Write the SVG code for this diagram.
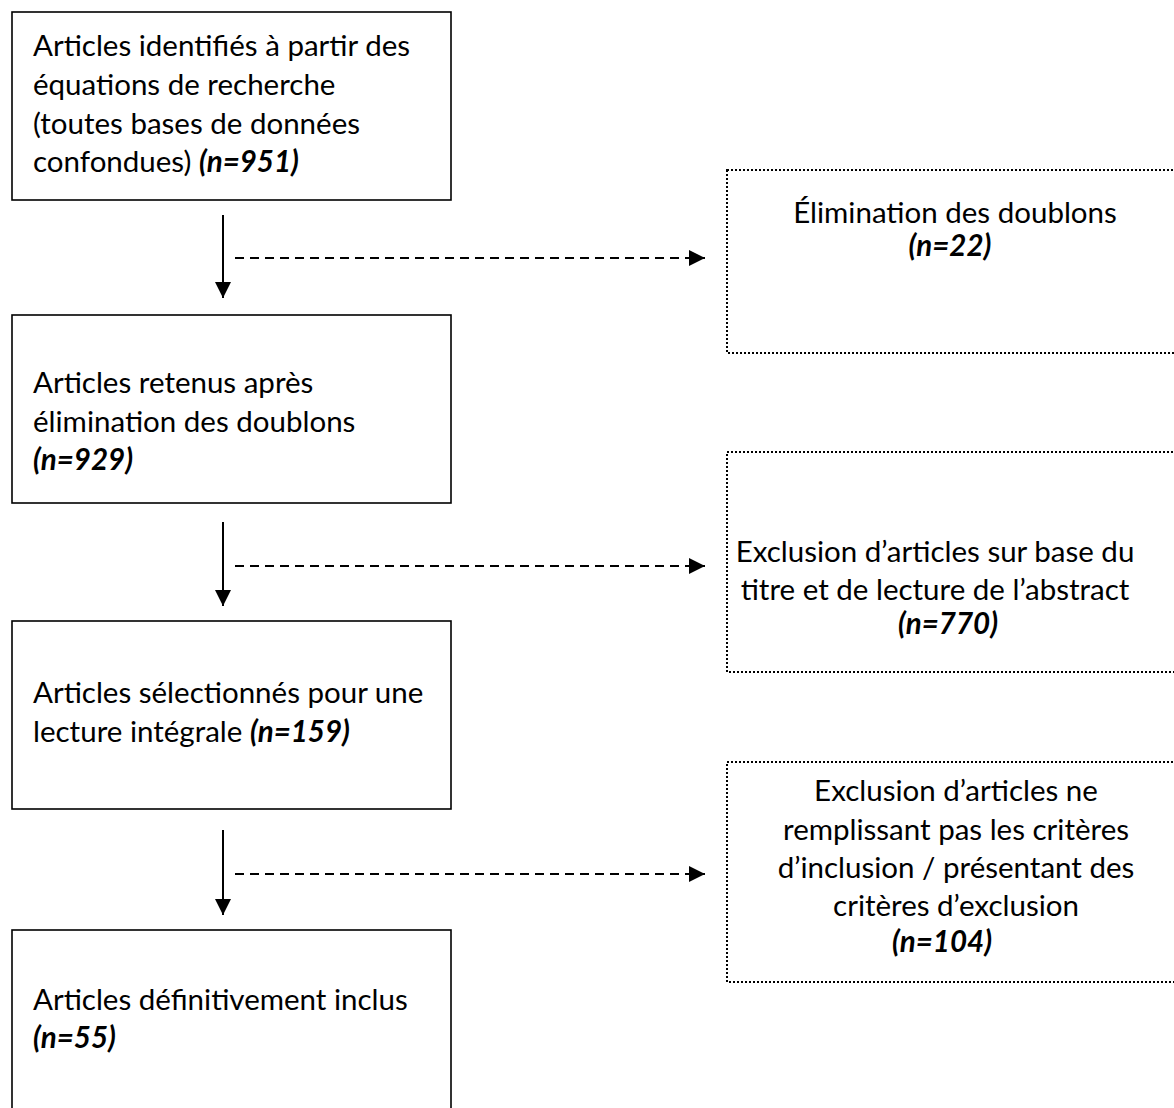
<svg xmlns="http://www.w3.org/2000/svg" width="1174" height="1108" viewBox="0 0 1174 1108">
<style>
.box{fill:#fff;stroke:#000;stroke-width:1.6}
.dbox{fill:#fff;stroke:#000;stroke-width:2;stroke-dasharray:2 2}
text{font-family:Lato,"Open Sans",sans-serif;font-size:29.5px;fill:#000}
.n{font-weight:bold;font-style:italic}
.c{text-anchor:middle}
.solid{stroke:#000;stroke-width:2;fill:none}
.dash{stroke:#000;stroke-width:2;fill:none;stroke-dasharray:9 6}
</style>
<defs>
<marker id="ah" markerUnits="userSpaceOnUse" markerWidth="17" markerHeight="17" refX="16" refY="8" orient="auto">
<path d="M0,0 L16,8 L0,16 Z" fill="#000"/>
</marker>
</defs>
<rect width="1174" height="1108" fill="#fff"/>
<g id="n1">
<rect class="box" x="12" y="12" width="439" height="188"/>
<text x="33" y="56">Articles identifiés à partir des</text>
<text x="33" y="95">équations de recherche</text>
<text x="33" y="134">(toutes bases de données</text>
<text x="33" y="172">confondues) <tspan class="n">(n=951)</tspan></text>
</g>
<g id="n2">
<rect class="box" x="12" y="315" width="439" height="188"/>
<text x="33" y="393">Articles retenus après</text>
<text x="33" y="432">élimination des doublons</text>
<text x="33" y="470" class="n">(n=929)</text>
</g>
<g id="n3">
<rect class="box" x="12" y="621" width="439" height="188"/>
<text x="33" y="703">Articles sélectionnés pour une</text>
<text x="33" y="742">lecture intégrale <tspan class="n">(n=159)</tspan></text>
</g>
<g id="n4">
<rect class="box" x="12" y="930" width="439" height="200"/>
<text x="33" y="1010">Articles définitivement inclus</text>
<text x="33" y="1048" class="n">(n=55)</text>
</g>
<g id="e1">
<rect class="dbox" x="727" y="170" width="460" height="183"/>
<text x="955" y="223" class="c">Élimination des doublons</text>
<text x="950" y="256" class="c n">(n=22)</text>
</g>
<g id="e2">
<rect class="dbox" x="727" y="452" width="460" height="220"/>
<text x="935" y="562" class="c">Exclusion d’articles sur base du</text>
<text x="935" y="600" class="c">titre et de lecture de l’abstract</text>
<text x="948" y="634" class="c n">(n=770)</text>
</g>
<g id="e3">
<rect class="dbox" x="727" y="762" width="460" height="220"/>
<text x="956" y="801" class="c">Exclusion d’articles ne</text>
<text x="956" y="840" class="c">remplissant pas les critères</text>
<text x="956" y="878" class="c">d’inclusion / présentant des</text>
<text x="956" y="916" class="c">critères d’exclusion</text>
<text x="942" y="952" class="c n">(n=104)</text>
</g>
<g id="connectors">
<line class="solid" x1="223" y1="215" x2="223" y2="298" marker-end="url(#ah)"/>
<line class="dash" x1="235" y1="258" x2="705" y2="258" marker-end="url(#ah)"/>
<line class="solid" x1="223" y1="522" x2="223" y2="606" marker-end="url(#ah)"/>
<line class="dash" x1="235" y1="566" x2="705" y2="566" marker-end="url(#ah)"/>
<line class="solid" x1="223" y1="830" x2="223" y2="915" marker-end="url(#ah)"/>
<line class="dash" x1="235" y1="874" x2="705" y2="874" marker-end="url(#ah)"/>
</g>
</svg>
